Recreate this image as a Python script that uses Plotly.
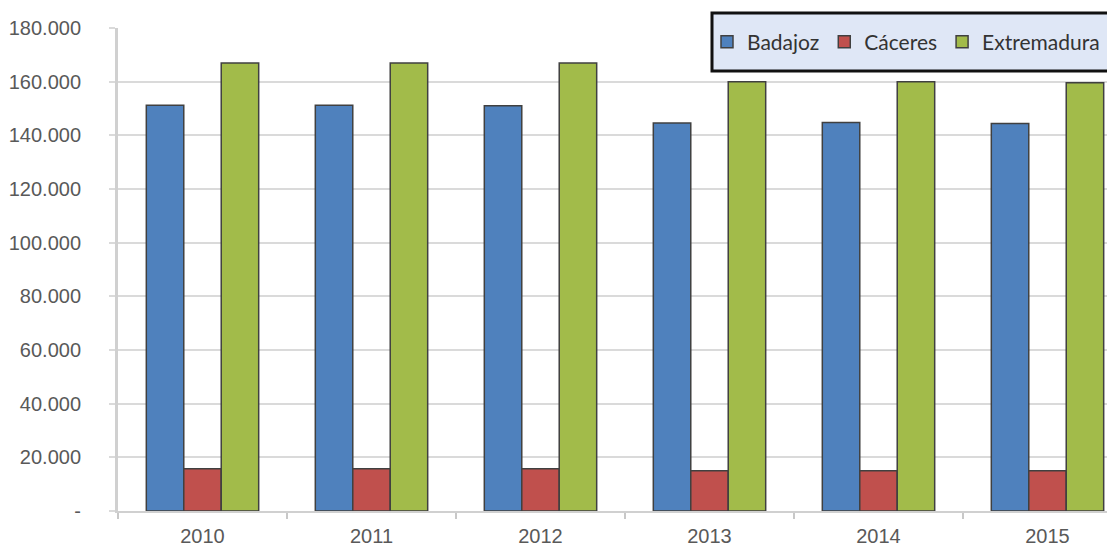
import plotly.graph_objects as go

years = ["2010", "2011", "2012", "2013", "2014", "2015"]
badajoz = [151200, 151200, 151000, 144600, 144800, 144400]
caceres = [15700, 15700, 15700, 15000, 15000, 15000]
extremadura = [167000, 167000, 167000, 160000, 160000, 159600]

series_names = ["Badajoz", "Cáceres", "Extremadura"]
series_colors = ["#4f81bd", "#c0504d", "#a2bb4a"]
y_tickvals = [0, 20000, 40000, 60000, 80000, 100000, 120000, 140000, 160000, 180000]
y_ticktext = ["-", "20.000", "40.000", "60.000", "80.000", "100.000", "120.000", "140.000", "160.000", "180.000"]

# the page body adds an 8px offset; margins compensate for it
W, H = 1115, 543
L, T, B, R = 110, 20, 40, 0
PW, PH = W - L - R, H - T - B
CAT_PX = 169  # width of one category slot in the original
x_end = -0.5 + PW / CAT_PX

fig = go.Figure()
for name, vals, col in zip(series_names, [badajoz, caceres, extremadura], series_colors):
    fig.add_trace(go.Bar(
        x=years, y=vals, name=name,
        marker=dict(color=col, line=dict(color="#404040", width=1.5)),
    ))

# legend box (drawn as a shape so it can be padded like the original)
fig.add_shape(
    type="rect", xref="paper", yref="paper",
    x0=(704 - L) / PW, x1=(1104 - L) / PW,
    y0=(H - B - 63) / PH, y1=(H - B - 5) / PH,
    fillcolor="#dfe7f6", line=dict(color="#111111", width=3), layer="above",
)

fig.update_layout(
    width=W, height=H,
    margin=dict(l=L, r=R, t=T, b=B, autoexpand=False),
    paper_bgcolor="white", plot_bgcolor="white",
    barmode="group", bargap=0.335, bargroupgap=0,
    font=dict(family="Liberation Sans, Arial, sans-serif", size=20, color="#595959"),
    showlegend=True,
    legend=dict(
        orientation="h",
        xref="container", yref="container",
        x=699 / W, xanchor="left", y=1 - 34 / H, yanchor="middle",
        bgcolor="rgba(0,0,0,0)", borderwidth=0,
        font=dict(family="Lato, Open Sans, sans-serif", size=21, color="#333333"),
        itemwidth=30,
    ),
    xaxis=dict(
        type="category", range=[-0.5, x_end], automargin=False,
        showgrid=False, showline=True, linecolor="#d0d0d0", linewidth=2,
        ticks="outside", tickson="boundaries", ticklen=6, tickcolor="#c8c8c8", tickwidth=2,
        ticklabelstandoff=6,
        tickfont=dict(size=20, color="#595959"),
        fixedrange=True,
    ),
    yaxis=dict(
        range=[0, 180000], tickvals=y_tickvals, ticktext=y_ticktext, automargin=False,
        showgrid=True, gridcolor="#dadada", gridwidth=2,
        showline=True, linecolor="#d0d0d0", linewidth=3,
        ticks="outside", ticklen=6, tickcolor="#dadada", tickwidth=2,
        ticklabelstandoff=24,
        tickfont=dict(size=20, color="#595959"),
        zeroline=False,
    ),
)

fig.write_html("out.html")
